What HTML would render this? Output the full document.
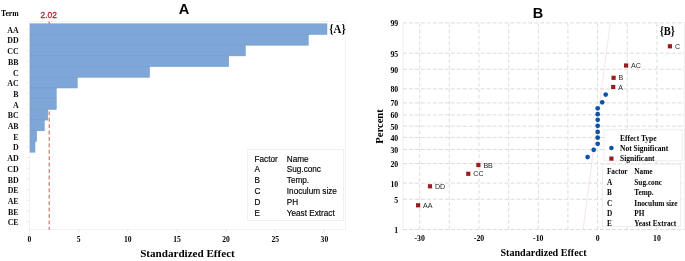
<!DOCTYPE html>
<html><head><meta charset="utf-8"><style>
html,body{margin:0;padding:0;background:#fff;width:685px;height:261px;overflow:hidden}
svg{display:block;will-change:transform}

</style></head><body>
<svg width="685" height="261" viewBox="0 0 685 261">
<rect x="29.5" y="21.5" width="316" height="208" fill="none" stroke="#f2f2f2" stroke-width="1"/>
<line x1="49.2" x2="49.2" y1="21.5" y2="229.8" stroke="#e0474c" stroke-width="1" stroke-dasharray="3.8 2.62"/>
<rect x="30.00" y="23.80" width="296.97" height="10.70" fill="#7ea7d8" stroke="#6f98cb" stroke-width="0.5"/>
<line x1="26.8" x2="29.5" y1="29.15" y2="29.15" stroke="#e4e4e4" stroke-width="0.8"/>
<text fill="#111" x="18.6" y="32.75" text-anchor="end" font-family='"Liberation Serif", serif' font-weight="bold" font-size="7.9">AA</text>
<rect x="30.00" y="34.50" width="278.29" height="10.70" fill="#7ea7d8" stroke="#6f98cb" stroke-width="0.5"/>
<line x1="26.8" x2="29.5" y1="39.85" y2="39.85" stroke="#e4e4e4" stroke-width="0.8"/>
<text fill="#111" x="18.6" y="43.45" text-anchor="end" font-family='"Liberation Serif", serif' font-weight="bold" font-size="7.9">DD</text>
<rect x="30.00" y="45.20" width="215.38" height="10.70" fill="#7ea7d8" stroke="#6f98cb" stroke-width="0.5"/>
<line x1="26.8" x2="29.5" y1="50.55" y2="50.55" stroke="#e4e4e4" stroke-width="0.8"/>
<text fill="#111" x="18.6" y="54.15" text-anchor="end" font-family='"Liberation Serif", serif' font-weight="bold" font-size="7.9">CC</text>
<rect x="30.00" y="55.90" width="198.67" height="10.70" fill="#7ea7d8" stroke="#6f98cb" stroke-width="0.5"/>
<line x1="26.8" x2="29.5" y1="61.25" y2="61.25" stroke="#e4e4e4" stroke-width="0.8"/>
<text fill="#111" x="18.6" y="64.85" text-anchor="end" font-family='"Liberation Serif", serif' font-weight="bold" font-size="7.9">BB</text>
<rect x="30.00" y="66.60" width="119.53" height="10.70" fill="#7ea7d8" stroke="#6f98cb" stroke-width="0.5"/>
<line x1="26.8" x2="29.5" y1="71.95" y2="71.95" stroke="#e4e4e4" stroke-width="0.8"/>
<text fill="#111" x="18.6" y="75.55" text-anchor="end" font-family='"Liberation Serif", serif' font-weight="bold" font-size="7.9">C</text>
<rect x="30.00" y="77.30" width="47.28" height="10.70" fill="#7ea7d8" stroke="#6f98cb" stroke-width="0.5"/>
<line x1="26.8" x2="29.5" y1="82.65" y2="82.65" stroke="#e4e4e4" stroke-width="0.8"/>
<text fill="#111" x="18.6" y="86.25" text-anchor="end" font-family='"Liberation Serif", serif' font-weight="bold" font-size="7.9">AC</text>
<rect x="30.00" y="88.00" width="26.25" height="10.70" fill="#7ea7d8" stroke="#6f98cb" stroke-width="0.5"/>
<line x1="26.8" x2="29.5" y1="93.35" y2="93.35" stroke="#e4e4e4" stroke-width="0.8"/>
<text fill="#111" x="18.6" y="96.95" text-anchor="end" font-family='"Liberation Serif", serif' font-weight="bold" font-size="7.9">B</text>
<rect x="30.00" y="98.70" width="26.25" height="10.70" fill="#7ea7d8" stroke="#6f98cb" stroke-width="0.5"/>
<line x1="26.8" x2="29.5" y1="104.05" y2="104.05" stroke="#e4e4e4" stroke-width="0.8"/>
<text fill="#111" x="18.6" y="107.65" text-anchor="end" font-family='"Liberation Serif", serif' font-weight="bold" font-size="7.9">A</text>
<rect x="30.00" y="109.40" width="17.79" height="10.70" fill="#7ea7d8" stroke="#6f98cb" stroke-width="0.5"/>
<line x1="26.8" x2="29.5" y1="114.75" y2="114.75" stroke="#e4e4e4" stroke-width="0.8"/>
<text fill="#111" x="18.6" y="118.35" text-anchor="end" font-family='"Liberation Serif", serif' font-weight="bold" font-size="7.9">BC</text>
<rect x="30.00" y="120.10" width="14.26" height="10.70" fill="#7ea7d8" stroke="#6f98cb" stroke-width="0.5"/>
<line x1="26.8" x2="29.5" y1="125.45" y2="125.45" stroke="#e4e4e4" stroke-width="0.8"/>
<text fill="#111" x="18.6" y="129.05" text-anchor="end" font-family='"Liberation Serif", serif' font-weight="bold" font-size="7.9">AB</text>
<rect x="30.00" y="130.80" width="6.69" height="10.70" fill="#7ea7d8" stroke="#6f98cb" stroke-width="0.5"/>
<line x1="26.8" x2="29.5" y1="136.15" y2="136.15" stroke="#e4e4e4" stroke-width="0.8"/>
<text fill="#111" x="18.6" y="139.75" text-anchor="end" font-family='"Liberation Serif", serif' font-weight="bold" font-size="7.9">E</text>
<rect x="30.00" y="141.50" width="5.01" height="10.70" fill="#7ea7d8" stroke="#6f98cb" stroke-width="0.5"/>
<line x1="26.8" x2="29.5" y1="146.85" y2="146.85" stroke="#e4e4e4" stroke-width="0.8"/>
<text fill="#111" x="18.6" y="150.45" text-anchor="end" font-family='"Liberation Serif", serif' font-weight="bold" font-size="7.9">D</text>
<line x1="26.8" x2="29.5" y1="157.55" y2="157.55" stroke="#e4e4e4" stroke-width="0.8"/>
<text fill="#111" x="18.6" y="161.15" text-anchor="end" font-family='"Liberation Serif", serif' font-weight="bold" font-size="7.9">AD</text>
<line x1="26.8" x2="29.5" y1="168.25" y2="168.25" stroke="#e4e4e4" stroke-width="0.8"/>
<text fill="#111" x="18.6" y="171.85" text-anchor="end" font-family='"Liberation Serif", serif' font-weight="bold" font-size="7.9">CD</text>
<line x1="26.8" x2="29.5" y1="178.95" y2="178.95" stroke="#e4e4e4" stroke-width="0.8"/>
<text fill="#111" x="18.6" y="182.55" text-anchor="end" font-family='"Liberation Serif", serif' font-weight="bold" font-size="7.9">BD</text>
<line x1="26.8" x2="29.5" y1="189.65" y2="189.65" stroke="#e4e4e4" stroke-width="0.8"/>
<text fill="#111" x="18.6" y="193.25" text-anchor="end" font-family='"Liberation Serif", serif' font-weight="bold" font-size="7.9">DE</text>
<line x1="26.8" x2="29.5" y1="200.35" y2="200.35" stroke="#e4e4e4" stroke-width="0.8"/>
<text fill="#111" x="18.6" y="203.95" text-anchor="end" font-family='"Liberation Serif", serif' font-weight="bold" font-size="7.9">AE</text>
<line x1="26.8" x2="29.5" y1="211.05" y2="211.05" stroke="#e4e4e4" stroke-width="0.8"/>
<text fill="#111" x="18.6" y="214.65" text-anchor="end" font-family='"Liberation Serif", serif' font-weight="bold" font-size="7.9">BE</text>
<line x1="26.8" x2="29.5" y1="221.75" y2="221.75" stroke="#e4e4e4" stroke-width="0.8"/>
<text fill="#111" x="18.6" y="225.35" text-anchor="end" font-family='"Liberation Serif", serif' font-weight="bold" font-size="7.9">CE</text>
<line x1="29.50" x2="29.50" y1="229.5" y2="232" stroke="#e4e4e4" stroke-width="0.8"/>
<text x="29.50" y="242" text-anchor="middle" font-family='"Liberation Serif", serif' font-weight="bold" font-size="7.6">0</text>
<line x1="78.65" x2="78.65" y1="229.5" y2="232" stroke="#e4e4e4" stroke-width="0.8"/>
<text x="78.65" y="242" text-anchor="middle" font-family='"Liberation Serif", serif' font-weight="bold" font-size="7.6">5</text>
<line x1="127.80" x2="127.80" y1="229.5" y2="232" stroke="#e4e4e4" stroke-width="0.8"/>
<text x="127.80" y="242" text-anchor="middle" font-family='"Liberation Serif", serif' font-weight="bold" font-size="7.6">10</text>
<line x1="176.95" x2="176.95" y1="229.5" y2="232" stroke="#e4e4e4" stroke-width="0.8"/>
<text x="176.95" y="242" text-anchor="middle" font-family='"Liberation Serif", serif' font-weight="bold" font-size="7.6">15</text>
<line x1="226.10" x2="226.10" y1="229.5" y2="232" stroke="#e4e4e4" stroke-width="0.8"/>
<text x="226.10" y="242" text-anchor="middle" font-family='"Liberation Serif", serif' font-weight="bold" font-size="7.6">20</text>
<line x1="275.25" x2="275.25" y1="229.5" y2="232" stroke="#e4e4e4" stroke-width="0.8"/>
<text x="275.25" y="242" text-anchor="middle" font-family='"Liberation Serif", serif' font-weight="bold" font-size="7.6">25</text>
<line x1="324.40" x2="324.40" y1="229.5" y2="232" stroke="#e4e4e4" stroke-width="0.8"/>
<text x="324.40" y="242" text-anchor="middle" font-family='"Liberation Serif", serif' font-weight="bold" font-size="7.6">30</text>
<text x="40.6" y="18" textLength="16.4" lengthAdjust="spacingAndGlyphs" font-family='"Liberation Sans", sans-serif' font-size="9.5" fill="#a8282c" stroke="#a8282c" stroke-width="0.3">2.02</text>
<text x="1" y="16" font-family='"Liberation Serif", serif' font-weight="bold" font-size="7.7">Term</text>
<text x="183.9" y="13.7" text-anchor="middle" font-family='"Liberation Sans", sans-serif' font-weight="bold" font-size="14.6">A</text>
<text x="329.3" y="32.9" textLength="16.4" lengthAdjust="spacingAndGlyphs" font-family='"Liberation Serif", serif' font-weight="bold" font-size="11.8">{A}</text>
<text x="187.5" y="257" text-anchor="middle" font-family='"Liberation Serif", serif' font-weight="bold" font-size="11.1">Standardized Effect</text>
<rect x="247.5" y="149.5" width="96" height="71" fill="#fff" stroke="#f0f0f0" stroke-width="1"/>
<text x="254.5" y="161.50" font-family='"Liberation Sans", sans-serif' font-size="8.2" stroke="#000" stroke-width="0.15">Factor</text>
<text x="286.8" y="161.50" font-family='"Liberation Sans", sans-serif' font-size="8.2" stroke="#000" stroke-width="0.15">Name</text>
<text x="254.5" y="172.30" font-family='"Liberation Sans", sans-serif' font-size="8.2" stroke="#000" stroke-width="0.15">A</text>
<text x="286.8" y="172.30" font-family='"Liberation Sans", sans-serif' font-size="8.2" stroke="#000" stroke-width="0.15">Sug.conc</text>
<text x="254.5" y="183.10" font-family='"Liberation Sans", sans-serif' font-size="8.2" stroke="#000" stroke-width="0.15">B</text>
<text x="286.8" y="183.10" font-family='"Liberation Sans", sans-serif' font-size="8.2" stroke="#000" stroke-width="0.15">Temp.</text>
<text x="254.5" y="193.90" font-family='"Liberation Sans", sans-serif' font-size="8.2" stroke="#000" stroke-width="0.15">C</text>
<text x="286.8" y="193.90" font-family='"Liberation Sans", sans-serif' font-size="8.2" stroke="#000" stroke-width="0.15">Inoculum size</text>
<text x="254.5" y="204.70" font-family='"Liberation Sans", sans-serif' font-size="8.2" stroke="#000" stroke-width="0.15">D</text>
<text x="286.8" y="204.70" font-family='"Liberation Sans", sans-serif' font-size="8.2" stroke="#000" stroke-width="0.15">PH</text>
<text x="254.5" y="215.50" font-family='"Liberation Sans", sans-serif' font-size="8.2" stroke="#000" stroke-width="0.15">E</text>
<text x="286.8" y="215.50" font-family='"Liberation Sans", sans-serif' font-size="8.2" stroke="#000" stroke-width="0.15">Yeast Extract</text>
<line x1="403" x2="403" y1="22.7" y2="229.5" stroke="#efefef" stroke-width="1"/>
<line x1="403" x2="685" y1="22.91" y2="22.91" stroke="#dcdcdc" stroke-width="1" stroke-dasharray="4 1.97"/>
<text x="398.2" y="26.41" text-anchor="end" font-family='"Liberation Serif", serif' font-weight="bold" font-size="7.8">99</text>
<line x1="403" x2="685" y1="53.17" y2="53.17" stroke="#dcdcdc" stroke-width="1" stroke-dasharray="4 1.97"/>
<text x="398.2" y="56.67" text-anchor="end" font-family='"Liberation Serif", serif' font-weight="bold" font-size="7.8">95</text>
<line x1="403" x2="685" y1="69.30" y2="69.30" stroke="#dcdcdc" stroke-width="1" stroke-dasharray="4 1.97"/>
<text x="398.2" y="72.80" text-anchor="end" font-family='"Liberation Serif", serif' font-weight="bold" font-size="7.8">90</text>
<line x1="403" x2="685" y1="88.83" y2="88.83" stroke="#dcdcdc" stroke-width="1" stroke-dasharray="4 1.97"/>
<text x="398.2" y="92.33" text-anchor="end" font-family='"Liberation Serif", serif' font-weight="bold" font-size="7.8">80</text>
<line x1="403" x2="685" y1="102.92" y2="102.92" stroke="#dcdcdc" stroke-width="1" stroke-dasharray="4 1.97"/>
<text x="398.2" y="106.42" text-anchor="end" font-family='"Liberation Serif", serif' font-weight="bold" font-size="7.8">70</text>
<line x1="403" x2="685" y1="114.95" y2="114.95" stroke="#dcdcdc" stroke-width="1" stroke-dasharray="4 1.97"/>
<text x="398.2" y="118.45" text-anchor="end" font-family='"Liberation Serif", serif' font-weight="bold" font-size="7.8">60</text>
<line x1="403" x2="685" y1="126.20" y2="126.20" stroke="#dcdcdc" stroke-width="1" stroke-dasharray="4 1.97"/>
<text x="398.2" y="129.70" text-anchor="end" font-family='"Liberation Serif", serif' font-weight="bold" font-size="7.8">50</text>
<line x1="403" x2="685" y1="137.45" y2="137.45" stroke="#dcdcdc" stroke-width="1" stroke-dasharray="4 1.97"/>
<text x="398.2" y="140.95" text-anchor="end" font-family='"Liberation Serif", serif' font-weight="bold" font-size="7.8">40</text>
<line x1="403" x2="685" y1="149.48" y2="149.48" stroke="#dcdcdc" stroke-width="1" stroke-dasharray="4 1.97"/>
<text x="398.2" y="152.98" text-anchor="end" font-family='"Liberation Serif", serif' font-weight="bold" font-size="7.8">30</text>
<line x1="403" x2="685" y1="163.57" y2="163.57" stroke="#dcdcdc" stroke-width="1" stroke-dasharray="4 1.97"/>
<text x="398.2" y="167.07" text-anchor="end" font-family='"Liberation Serif", serif' font-weight="bold" font-size="7.8">20</text>
<line x1="403" x2="685" y1="183.10" y2="183.10" stroke="#dcdcdc" stroke-width="1" stroke-dasharray="4 1.97"/>
<text x="398.2" y="186.60" text-anchor="end" font-family='"Liberation Serif", serif' font-weight="bold" font-size="7.8">10</text>
<line x1="403" x2="685" y1="199.23" y2="199.23" stroke="#dcdcdc" stroke-width="1" stroke-dasharray="4 1.97"/>
<text x="398.2" y="202.73" text-anchor="end" font-family='"Liberation Serif", serif' font-weight="bold" font-size="7.8">5</text>
<line x1="403" x2="685" y1="229.49" y2="229.49" stroke="#dcdcdc" stroke-width="1" stroke-dasharray="4 1.97"/>
<text x="398.2" y="232.99" text-anchor="end" font-family='"Liberation Serif", serif' font-weight="bold" font-size="7.8">1</text>
<line x1="419.70" x2="419.70" y1="23.6" y2="229.49" stroke="#dcdcdc" stroke-width="1" stroke-dasharray="3.6 2.35"/>
<line x1="449.35" x2="449.35" y1="23.6" y2="229.49" stroke="#dcdcdc" stroke-width="1" stroke-dasharray="3.6 2.35"/>
<line x1="479.00" x2="479.00" y1="23.6" y2="229.49" stroke="#dcdcdc" stroke-width="1" stroke-dasharray="3.6 2.35"/>
<line x1="508.65" x2="508.65" y1="23.6" y2="229.49" stroke="#dcdcdc" stroke-width="1" stroke-dasharray="3.6 2.35"/>
<line x1="538.30" x2="538.30" y1="23.6" y2="229.49" stroke="#dcdcdc" stroke-width="1" stroke-dasharray="3.6 2.35"/>
<line x1="567.95" x2="567.95" y1="23.6" y2="229.49" stroke="#dcdcdc" stroke-width="1" stroke-dasharray="3.6 2.35"/>
<line x1="597.60" x2="597.60" y1="23.6" y2="229.49" stroke="#dcdcdc" stroke-width="1" stroke-dasharray="3.6 2.35"/>
<line x1="627.25" x2="627.25" y1="23.6" y2="229.49" stroke="#dcdcdc" stroke-width="1" stroke-dasharray="3.6 2.35"/>
<line x1="656.90" x2="656.90" y1="23.6" y2="229.49" stroke="#dcdcdc" stroke-width="1" stroke-dasharray="3.6 2.35"/>
<line x1="686.55" x2="686.55" y1="23.6" y2="229.49" stroke="#dcdcdc" stroke-width="1" stroke-dasharray="3.6 2.35"/>
<text x="419.70" y="241.2" text-anchor="middle" font-family='"Liberation Serif", serif' font-weight="bold" font-size="7.8">-30</text>
<text x="479.00" y="241.2" text-anchor="middle" font-family='"Liberation Serif", serif' font-weight="bold" font-size="7.8">-20</text>
<text x="538.30" y="241.2" text-anchor="middle" font-family='"Liberation Serif", serif' font-weight="bold" font-size="7.8">-10</text>
<text x="597.60" y="241.2" text-anchor="middle" font-family='"Liberation Serif", serif' font-weight="bold" font-size="7.8">0</text>
<text x="656.90" y="241.2" text-anchor="middle" font-family='"Liberation Serif", serif' font-weight="bold" font-size="7.8">10</text>
<line x1="610.3" y1="22.9" x2="583.1" y2="229.3" stroke="#f6d8d8" stroke-width="0.7"/>
<circle cx="587.6" cy="157.1" r="2.35" fill="#0c52a8"/>
<circle cx="593.7" cy="149.8" r="2.35" fill="#0c52a8"/>
<circle cx="597.7" cy="143.8" r="2.35" fill="#0c52a8"/>
<circle cx="597.7" cy="137.7" r="2.35" fill="#0c52a8"/>
<circle cx="597.7" cy="131.9" r="2.35" fill="#0c52a8"/>
<circle cx="597.7" cy="125.8" r="2.35" fill="#0c52a8"/>
<circle cx="597.7" cy="119.8" r="2.35" fill="#0c52a8"/>
<circle cx="597.7" cy="114.2" r="2.35" fill="#0c52a8"/>
<circle cx="597.7" cy="108.3" r="2.35" fill="#0c52a8"/>
<circle cx="602.2" cy="102.3" r="2.35" fill="#0c52a8"/>
<circle cx="605.7" cy="94.6" r="2.35" fill="#0c52a8"/>
<rect x="416.00" y="203.20" width="4.2" height="4.2" fill="#9b1c1c"/>
<text x="423.10" y="207.90" font-family='"Liberation Sans", sans-serif' font-size="7.1" fill="#262626">AA</text>
<rect x="427.90" y="184.20" width="4.2" height="4.2" fill="#9b1c1c"/>
<text x="435.00" y="188.90" font-family='"Liberation Sans", sans-serif' font-size="7.1" fill="#262626">DD</text>
<rect x="466.20" y="171.70" width="4.2" height="4.2" fill="#9b1c1c"/>
<text x="473.30" y="176.40" font-family='"Liberation Sans", sans-serif' font-size="7.1" fill="#262626">CC</text>
<rect x="476.30" y="162.90" width="4.2" height="4.2" fill="#9b1c1c"/>
<text x="483.40" y="167.60" font-family='"Liberation Sans", sans-serif' font-size="7.1" fill="#262626">BB</text>
<rect x="611.10" y="84.90" width="4.2" height="4.2" fill="#9b1c1c"/>
<text x="618.20" y="89.60" font-family='"Liberation Sans", sans-serif' font-size="7.1" fill="#262626">A</text>
<rect x="611.50" y="75.70" width="4.2" height="4.2" fill="#9b1c1c"/>
<text x="618.60" y="80.40" font-family='"Liberation Sans", sans-serif' font-size="7.1" fill="#262626">B</text>
<rect x="624.00" y="63.40" width="4.2" height="4.2" fill="#9b1c1c"/>
<text x="631.10" y="68.10" font-family='"Liberation Sans", sans-serif' font-size="7.1" fill="#262626">AC</text>
<rect x="667.80" y="44.20" width="4.2" height="4.2" fill="#9b1c1c"/>
<text x="674.90" y="48.90" font-family='"Liberation Sans", sans-serif' font-size="7.1" fill="#262626">C</text>
<text x="538" y="18.4" text-anchor="middle" font-family='"Liberation Sans", sans-serif' font-weight="bold" font-size="14.5">B</text>
<text x="659.7" y="34.6" textLength="15.3" lengthAdjust="spacingAndGlyphs" font-family='"Liberation Serif", serif' font-weight="bold" font-size="12">{B}</text>
<text x="543.5" y="256" text-anchor="middle" font-family='"Liberation Serif", serif' font-weight="bold" font-size="10.1">Standardized Effect</text>
<text transform="translate(382.6,126.5) rotate(-90)" text-anchor="middle" font-family='"Liberation Serif", serif' font-weight="bold" font-size="10.6">Percent</text>
<rect x="604" y="129.8" width="78.2" height="31" fill="#fff" stroke="#ededed" stroke-width="1"/>
<text x="620" y="140.9" font-family='"Liberation Serif", serif' font-weight="bold" font-size="7.5">Effect Type</text>
<circle cx="611.4" cy="148" r="2.3" fill="#0c52a8"/>
<line x1="684.5" x2="684.5" y1="22.7" y2="229.5" stroke="#f0f0f0" stroke-width="1"/>
<text x="620" y="151" font-family='"Liberation Serif", serif' font-weight="bold" font-size="7.5">Not Significant</text>
<rect x="609.3" y="156.5" width="4.2" height="4.2" fill="#9b1c1c"/>
<text x="620" y="161" font-family='"Liberation Serif", serif' font-weight="bold" font-size="7.5">Significant</text>
<rect x="602.5" y="164.2" width="78" height="62.3" fill="#fff" stroke="#ededed" stroke-width="1"/>
<text x="606.9" y="174.30" font-family='"Liberation Serif", serif' font-weight="bold" font-size="7.3">Factor</text>
<text x="634.3" y="174.30" font-family='"Liberation Serif", serif' font-weight="bold" font-size="7.3">Name</text>
<text x="606.9" y="184.80" font-family='"Liberation Serif", serif' font-weight="bold" font-size="7.3">A</text>
<text x="634.3" y="184.80" font-family='"Liberation Serif", serif' font-weight="bold" font-size="7.3">Sug.conc</text>
<text x="606.9" y="195.15" font-family='"Liberation Serif", serif' font-weight="bold" font-size="7.3">B</text>
<text x="634.3" y="195.15" font-family='"Liberation Serif", serif' font-weight="bold" font-size="7.3">Temp.</text>
<text x="606.9" y="205.50" font-family='"Liberation Serif", serif' font-weight="bold" font-size="7.3">C</text>
<text x="634.3" y="205.50" font-family='"Liberation Serif", serif' font-weight="bold" font-size="7.3">Inoculum size</text>
<text x="606.9" y="215.85" font-family='"Liberation Serif", serif' font-weight="bold" font-size="7.3">D</text>
<text x="634.3" y="215.85" font-family='"Liberation Serif", serif' font-weight="bold" font-size="7.3">PH</text>
<text x="606.9" y="226.20" font-family='"Liberation Serif", serif' font-weight="bold" font-size="7.3">E</text>
<text x="634.3" y="226.20" font-family='"Liberation Serif", serif' font-weight="bold" font-size="7.3">Yeast Extract</text>
</svg>
</body></html>
